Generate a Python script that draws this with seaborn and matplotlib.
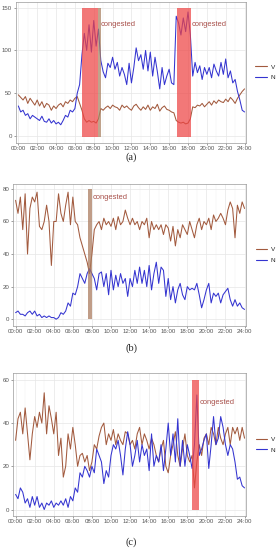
import numpy as np
import pandas as pd
import matplotlib
matplotlib.use("Agg")
import matplotlib.pyplot as plt
import seaborn as sns

# time axis: every 15 minutes from 00:00 to 24:00
hours = [i * 0.25 for i in range(97)]
tick_hours = list(range(0, 25, 2))
tick_labels = ["%02d:00" % h for h in tick_hours]

# panel (a)
a_v = [48, 45, 42, 46, 38, 44, 40, 36,
       42, 35, 40, 33, 38, 36, 30, 35,
       32, 36, 38, 34, 40, 38, 42, 40,
       44, 46, 38, 30, 20, 16, 18, 16,
       17, 15, 20, 32, 30, 33, 35, 32,
       36, 34, 33, 30, 36, 33, 35, 32,
       30, 35, 37, 33, 30, 34, 31, 36,
       30, 34, 32, 37, 29, 33, 35, 31,
       30, 28, 27, 18, 16, 15, 16, 14,
       15, 20, 34, 33, 36, 35, 38, 34,
       37, 40, 36, 41, 38, 42, 40, 39,
       43, 40, 45, 42, 38, 44, 48, 52,
       55]
a_n = [35, 28, 30, 24, 26, 20, 24, 22,
       20, 18, 23, 17, 16, 20, 15, 18,
       14, 16, 13, 18, 24, 22, 30, 28,
       32, 50, 60, 95, 120, 100, 130, 98,
       135, 105, 125, 88, 75, 68, 85, 80,
       92, 78, 86, 70, 80, 72, 60, 85,
       62, 80, 103, 88, 95, 78, 100, 76,
       98, 70, 92, 75, 55, 80, 60, 70,
       78, 62, 60, 140, 132, 118, 138, 122,
       145, 118, 70, 86, 74, 82, 66, 80,
       72, 80, 68, 84, 76, 70, 86, 72,
       90, 68, 76, 62, 66, 52, 42, 30,
       28]

# panel (b)
b_v = [73, 65, 75, 55, 77, 40, 68, 75,
       72, 78, 57, 55, 60, 70, 60, 33,
       60, 60, 77, 65, 60, 70, 78, 58,
       75, 60, 58, 50, 45, 40, 35, 28,
       40, 55, 58, 60, 55, 62, 58, 60,
       57, 62, 55, 63, 58, 60, 67, 62,
       58, 62, 58, 60, 55, 60, 58, 62,
       50, 60, 55, 58, 55, 58, 52, 58,
       56, 48, 57, 45, 55, 50, 58, 55,
       52, 60, 55, 50, 58, 62, 55, 60,
       58, 62, 55, 64, 60, 62, 65, 62,
       58, 67, 72, 68, 50, 70, 65, 72,
       68]
b_n = [4, 5, 3, 3, 2, 4, 5, 3,
       5, 2, 3, 1, 2, 1, 2, 1,
       1, 0, 1, 4, 3, 5, 10, 8,
       16, 15, 20, 28, 25, 22, 28, 31,
       28, 25, 18, 28, 29, 20, 28, 15,
       30, 18, 27, 20, 28, 22, 25, 14,
       25, 20, 30, 22, 32, 22, 30, 20,
       33, 18, 28, 35, 22, 32, 30, 14,
       25, 12, 20, 10, 18, 22, 15, 12,
       20, 18, 19, 18, 22, 15, 7, 12,
       18, 22, 10, 16, 14, 16, 10, 15,
       17, 19, 12, 8, 12, 8, 10, 7,
       6]

# panel (c)
c_v = [32, 42, 45, 35, 47, 35, 23, 35,
       43, 38, 45, 40, 54, 35, 48, 42,
       35, 45, 25, 33, 15, 20, 35, 28,
       38, 30, 20, 25, 26, 22, 25, 18,
       22, 30, 28, 34, 38, 40, 30, 35,
       32, 37, 30, 35, 32, 30, 36, 35,
       30, 32, 28, 35, 38, 30, 35, 32,
       28, 33, 30, 25, 22, 28, 32, 20,
       17, 25, 30, 36, 25, 20, 28, 35,
       25, 22, 25, 10, 22, 30, 25, 33,
       35, 30, 38, 35, 30, 38, 33, 30,
       35, 38, 30, 38, 35, 38, 32, 38,
       33]
c_n = [7, 5, 10, 8, 3, 5, 1, 6,
       2, 6, 1, 3, 0, 3, 2, 4,
       1, 3, 2, 4, 2, 5, 1, 6,
       4, 10, 8, 17, 15, 20, 18, 15,
       20, 17, 28, 25, 22, 12, 18, 15,
       25, 30, 28, 32, 25, 16, 28, 36,
       30, 20, 25, 32, 22, 30, 25, 28,
       18, 35, 20, 25, 22, 30, 18, 28,
       40, 25, 35, 22, 42, 20, 32, 20,
       30, 25, 19, 30, 53, 25, 28, 32,
       35, 19, 30, 43, 30, 33, 43, 38,
       30, 25, 30, 28, 22, 14, 15, 11,
       10]

# congested periods (start hour, end hour, colour)
a_jams = [(6.75, 8.4, "#EE4444"), (8.4, 8.75, "#A88060"), (16.8, 18.35, "#EE4444")]
b_jams = [(7.55, 8.05, "#A8785A")]
c_jams = [(18.5, 19.2, "#EE4444")]

panels = [
    dict(v=a_v, n=a_n, jams=a_jams, ylim=(-8, 157), yticks=[0, 50, 100, 150],
         top=150, bottom=-1, labels=[(8.75, 130), (18.4, 130)], cap="(a)",
         pos=[0.056, 0.7405, 0.832, 0.2564], cap_y=0.706),
    dict(v=b_v, n=b_n, jams=b_jams, ylim=(-4, 83), yticks=[0, 20, 40, 60, 80],
         top=80, bottom=0, labels=[(8.1, 74.5)], cap="(b)",
         pos=[0.046, 0.4078, 0.842, 0.2576], cap_y=0.358),
    dict(v=c_v, n=c_n, jams=c_jams, ylim=(-3, 63), yticks=[0, 20, 40, 60],
         top=60, bottom=0, labels=[(19.3, 49.5)], cap="(c)",
         pos=[0.046, 0.0618, 0.842, 0.2594], cap_y=0.006),
]

for p in panels:
    assert len(p["v"]) == len(hours) and len(p["n"]) == len(hours)

sns.set_theme(style="whitegrid")
plt.rcParams["font.family"] = ["Liberation Sans", "DejaVu Sans"]

palette = {"V": "#A25A3E", "N": "#3434D0"}
fig = plt.figure(figsize=(2.77, 5.5), dpi=100)

for p in panels:
    ax = fig.add_axes(p["pos"])
    df = pd.DataFrame({"t": hours * 2,
                       "value": p["v"] + p["n"],
                       "series": ["V"] * len(hours) + ["N"] * len(hours)})
    sns.lineplot(data=df, x="t", y="value", hue="series", palette=palette,
                 linewidth=0.75, ax=ax, legend=False, zorder=2)
    for x0, x1, col in p["jams"]:
        ax.fill_between([x0, x1], p["bottom"], p["top"], color=col,
                        alpha=0.72, linewidth=0, zorder=3)
    for lx, ly in p["labels"]:
        ax.text(lx, ly, "congested", fontsize=5.4, color="#A8504A",
                va="center", ha="left", zorder=4)
    ax.set_xlim(-0.3, 24.15)
    ax.set_ylim(*p["ylim"])
    ax.set_xticks(tick_hours)
    ax.set_xticklabels(tick_labels)
    ax.set_yticks(p["yticks"])
    ax.set_xticks([h for h in range(1, 24, 2)], minor=True)
    ax.set_xlabel("")
    ax.set_ylabel("")
    ax.tick_params(axis="both", which="major", labelsize=4.4, colors="#555555",
                   length=1.5, width=0.4, pad=1, left=True, bottom=True)
    ax.tick_params(which="minor", length=0)
    ax.grid(which="major", color="#E6E6E6", linewidth=0.5)
    ax.grid(which="minor", axis="x", color="#F0F0F0", linewidth=0.3)
    for s in ax.spines.values():
        s.set_color("#9A9A9A")
        s.set_linewidth(0.5)
    handles = [plt.Line2D([], [], color=palette[k], linewidth=0.8) for k in ["V", "N"]]
    ax.legend(handles, ["V", "N"], loc="center left", bbox_to_anchor=(1.03, 0.5),
              frameon=False, fontsize=4.6, handlelength=1.8, handletextpad=0.6,
              labelspacing=0.8, borderaxespad=0)
    fig.text(0.475, p["cap_y"], p["cap"], fontsize=7.5, ha="center", va="bottom",
             family=["Liberation Serif", "DejaVu Serif"])

fig.savefig("out.png", dpi=100)
